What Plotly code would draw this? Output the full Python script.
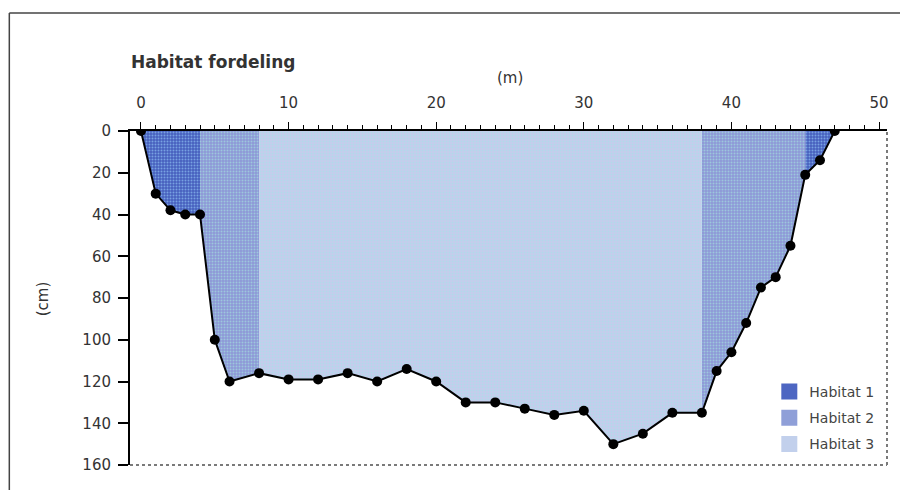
import plotly.graph_objects as go

# ---- data ----
distance_m = [0, 1, 2, 3, 4, 5, 6, 8, 10, 12, 14, 16, 18, 20, 22, 24, 26, 28, 30,
              32, 34, 36, 38, 39, 40, 41, 42, 43, 44, 45, 46, 47]
depth_cm = [0, 30, 38, 40, 40, 100, 120, 116, 119, 119, 116, 120, 114, 120, 130,
            130, 133, 136, 134, 150, 145, 135, 135, 115, 106, 92, 75, 70, 55, 21, 14, 0]

# habitat zones along the transect: (start m, end m, habitat)
zone_start = [0, 4, 8, 38, 45]
zone_end = [4, 8, 38, 45, 47]
zone_habitat = ["Habitat 1", "Habitat 2", "Habitat 3", "Habitat 2", "Habitat 1"]

habitat_names = ["Habitat 1", "Habitat 2", "Habitat 3"]
habitat_bg = {"Habitat 1": "#4760bf", "Habitat 2": "#8e98d8", "Habitat 3": "#c6cced"}
habitat_fg = {"Habitat 1": "#78a2e2", "Habitat 2": "#9cc8dc", "Habitat 3": "#b0daea"}
habitat_legend = {"Habitat 1": "#4d66c2", "Habitat 2": "#8f9fd8", "Habitat 3": "#c2d0ec"}

x_ticks = [0, 10, 20, 30, 40, 50]
y_ticks = [0, 20, 40, 60, 80, 100, 120, 140, 160]

FONT = "DejaVu Sans"

fig = go.Figure()

# build polygons for each habitat (surface at depth 0, bottom along profile)
for name in habitat_names:
    xs, ys = [], []
    for a, b, h in zip(zone_start, zone_end, zone_habitat):
        if h != name:
            continue
        px = [d for d in distance_m if a <= d <= b]
        py = [depth_cm[distance_m.index(d)] for d in px]
        xs += [a] + px + [b, None]
        ys += [0] + py + [0, None]
    fig.add_trace(go.Scatter(
        x=xs, y=ys, mode="none", fill="toself", name=name,
        fillcolor=habitat_bg[name],
        fillpattern=dict(shape=".", size=3, solidity=0.33,
                         fgcolor=habitat_fg[name], bgcolor=habitat_bg[name],
                         fillmode="replace"),
        hoverinfo="skip", showlegend=False, legendgroup=name,
    ))

fig.add_trace(go.Scatter(
    x=distance_m, y=depth_cm, mode="lines+markers", showlegend=False,
    line=dict(color="black", width=2),
    marker=dict(color="black", size=10),
    name="Profil",
))

# legend entries (square swatches)
for name in habitat_names:
    fig.add_trace(go.Scatter(
        x=[None], y=[None], mode="markers", name=name, legendgroup=name,
        marker=dict(symbol="square", size=17, color=habitat_legend[name]),
        showlegend=True,
    ))

W, H = 900, 490
L, R, T, B = 130, 11, 131, 25
pw, ph = W - L - R, H - T - B


def px2paper_x(px):
    return (px - L) / pw


def px2paper_y(py):
    return (H - B - py) / ph


fig.update_layout(
    width=W, height=H,
    margin=dict(l=L, r=R, t=T, b=B, pad=0),
    paper_bgcolor="white", plot_bgcolor="white",
    font=dict(family=FONT, size=15, color="#333333"),
    showlegend=True,
    legend=dict(x=px2paper_x(771), y=px2paper_y(376), xanchor="left", yanchor="top",
                bgcolor="rgba(0,0,0,0)", font=dict(size=14, color="#444444"),
                itemwidth=30, tracegroupgap=5, itemclick=False),
    xaxis=dict(
        side="top", range=[(L - 141) / 14.8, (L + pw - 141) / 14.8],
        tickvals=x_ticks, ticks="outside", ticklen=7, tickwidth=1, tickcolor="black",
        showline=True, linecolor="black", linewidth=2, showgrid=False, zeroline=False,
        ticklabelstandoff=8,
        minor=dict(dtick=1, ticks="outside", ticklen=4, tickwidth=1, tickcolor="black",
                   showgrid=False),
        tickfont=dict(size=15, color="#333333"),
    ),
    yaxis=dict(
        range=[160, 0], tickvals=y_ticks, ticks="outside", ticklen=10, tickwidth=1.5,
        tickcolor="black", showline=True, linecolor="black", linewidth=2,
        ticklabelstandoff=4,
        showgrid=False, zeroline=False, tickfont=dict(size=15, color="#333333"),
    ),
    shapes=[
        # right & bottom frame of plot area
        dict(type="line", xref="paper", yref="paper", x0=0, x1=1, y0=0, y1=0,
             line=dict(color="#7a7a7a", width=2, dash="dot")),
        dict(type="line", xref="paper", yref="paper", x0=1, x1=1, y0=0, y1=1,
             line=dict(color="#7a7a7a", width=2, dash="dot")),
        # outer figure frame (top & left)
        dict(type="line", xref="paper", yref="paper", x0=px2paper_x(9), x1=px2paper_x(905),
             y0=px2paper_y(13), y1=px2paper_y(13), line=dict(color="#444444", width=1.5)),
        dict(type="line", xref="paper", yref="paper", x0=px2paper_x(9), x1=px2paper_x(9),
             y0=px2paper_y(13), y1=px2paper_y(495), line=dict(color="#444444", width=1.5)),
    ],
    annotations=[
        dict(text="<b>Habitat fordeling</b>", xref="paper", yref="paper",
             x=px2paper_x(129), y=px2paper_y(62), xanchor="left", yanchor="middle",
             showarrow=False, font=dict(family=FONT, size=17, color="#333333")),
        dict(text="(m)", xref="paper", yref="paper",
             x=px2paper_x(511), y=px2paper_y(78), xanchor="center", yanchor="middle",
             showarrow=False, font=dict(family=FONT, size=15, color="#333333")),
        dict(text="(cm)", xref="paper", yref="paper", textangle=-90,
             x=px2paper_x(43), y=px2paper_y(299), xanchor="center", yanchor="middle",
             showarrow=False, font=dict(family=FONT, size=15, color="#333333")),
    ],
)

fig.write_html(
    "out.html",
    config={"displayModeBar": False},
    post_script="document.body.style.margin='0';document.body.style.overflow='hidden';",
)
